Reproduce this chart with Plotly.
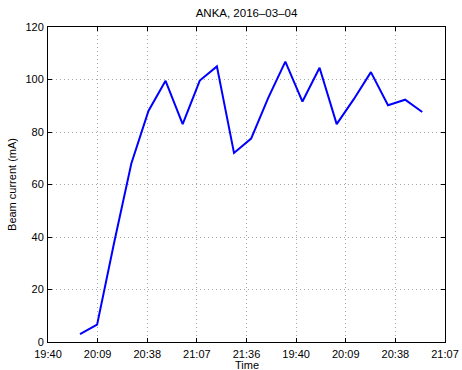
import plotly.graph_objects as go

# minutes after 19:40 for each sample
minutes = [18.7 + 10 * i for i in range(21)]
current_mA = [3.0, 6.6, 38, 68, 88, 99.5, 83, 99.6, 105, 72, 77.5,
              93, 106.8, 91.6, 104.5, 83, 92.5, 102.8, 90.2, 92.3, 87.6]
tick_minutes = [0, 29, 58, 87, 116, 145, 174, 203, 232]
tick_labels = ["19:40", "20:09", "20:38", "21:07", "21:36",
               "19:40", "20:09", "20:38", "21:07"]
y_ticks = [0, 20, 40, 60, 80, 100, 120]

fig = go.Figure()
fig.add_trace(go.Scatter(x=minutes, y=current_mA, mode="lines",
                         line=dict(color="#0000ff", width=2), showlegend=False))

font = dict(family="Liberation Sans, Arial, sans-serif", size=11, color="#000")
axis_common = dict(showline=True, linecolor="#000", linewidth=1, mirror="allticks",
                   ticks="inside", ticklen=4, tickcolor="#000",
                   showgrid=True, gridcolor="#a8a8a8", griddash="1px,3px", gridwidth=1,
                   zeroline=False, tickfont=font, automargin=False)

fig.update_layout(
    width=462, height=370,
    margin=dict(l=48, r=17, t=27, b=28),
    paper_bgcolor="white", plot_bgcolor="white",
    font=font,
    title=dict(text="ANKA, 2016\u201303\u201304", x=(48 + 445) / 2 / 462, xanchor="center",
               y=1 - 13 / 370, yanchor="middle", font=dict(size=11.5)),
    xaxis=dict(range=[0, 232], tickmode="array", tickvals=tick_minutes, ticktext=tick_labels,
               ticklabelstandoff=2, **axis_common),
    yaxis=dict(range=[0, 120], tickmode="array", tickvals=y_ticks, ticklabelstandoff=1,
               title=dict(text="Beam current (mA)", standoff=6, font=dict(size=11)), **axis_common),
    annotations=[dict(text="Time", xref="paper", yref="paper", x=0.5, y=-(365 - 342) / 315,
                      xanchor="center", yanchor="middle", showarrow=False, borderpad=0,
                      font=dict(size=11))],
)

fig.write_html("out.html")
